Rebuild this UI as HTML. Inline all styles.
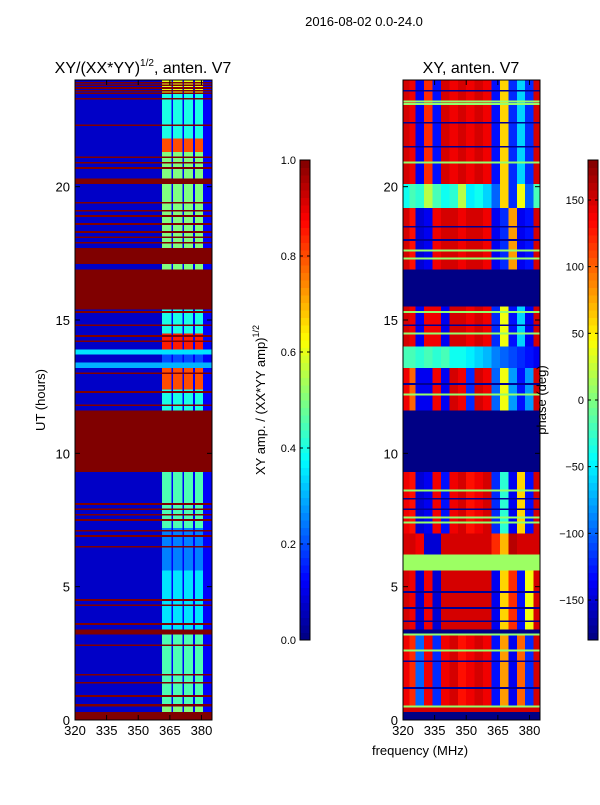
<!DOCTYPE html>
<html><head><meta charset="utf-8"><style>
body{margin:0;background:#fff;}
svg text{font-family:"Liberation Sans",sans-serif;fill:#000;}
</style></head><body>
<svg id="fig" width="600" height="800" viewBox="0 0 600 800" xmlns="http://www.w3.org/2000/svg">
<rect width="600" height="800" fill="#fff"/>
<text x="364" y="26" font-size="13" text-anchor="middle">2016-08-02 0.0-24.0</text>
<text x="143" y="73" font-size="16" text-anchor="middle">XY/(XX*YY)<tspan font-size="10" dy="-7">1/2</tspan><tspan dy="7">, anten. V7</tspan></text>
<text x="471" y="73" font-size="16" text-anchor="middle">XY, anten. V7</text>
<g id="left"></g>
<g id="right"></g>
<g id="cb1"></g>
<g id="cb2"></g>
<g id="axes"></g>
<text x="420" y="755" font-size="13" text-anchor="middle">frequency (MHz)</text>
<text transform="translate(45,400) rotate(-90)" font-size="13" text-anchor="middle">UT (hours)</text>
<text transform="translate(265,400) rotate(-90)" font-size="13" text-anchor="middle">XY amp. / (XX*YY amp)<tspan font-size="9" dy="-6">1/2</tspan></text>
<text transform="translate(546,400) rotate(-90)" font-size="13" text-anchor="middle">phase (deg)</text>
</svg>
<script>
// ---- data ----
const freqDomain=[320,385];
const timeDomain=[0,24];
const xTicks=[320,335,350,365,380];
const yTicks=[0,5,10,15,20];
const ampTicks=[0,0.2,0.4,0.6,0.8,1.0];
const phaseTicks=[-150,-100,-50,0,50,100,150];
const lowEdge=361.2;
const stripes=[[361.2,365.9],[366.4,371],[371.6,376],[377,380.7]];
const ampBands=[[0,0.3,1,1],[0.3,0.5,0.07,0.5],[0.5,0.6,1,1],[0.6,3.2,0.07,0.45],[3.2,3.4,1,1],[3.4,5.6,0.07,0.35],[5.6,7.2,0.07,0.25],[7.2,9.3,0.07,0.45],[9.3,11.6,1,1],[11.6,12.4,0.07,0.4],[12.4,13.2,0.07,0.8],[13.2,13.4,0.3,0.3],[13.4,13.7,0.07,0.2],[13.7,13.9,0.35,0.35],[13.9,14.5,0.07,0.85],[14.5,15.4,0.07,0.4],[15.4,16.9,1,1],[16.9,17.1,0.07,0.5],[17.1,17.7,1,1],[17.7,20.1,0.07,0.5],[20.1,20.3,1,1],[20.3,21.3,0.07,0.5],[21.3,21.8,0.07,0.8],[21.8,23.5,0.07,0.4],[23.5,24,0.07,0.6]];
const ampRedLines=[0.9,1.4,1.7,2.8,3.6,4.3,4.5,6.5,6.9,7.1,7.5,7.7,7.9,8.1,11.8,12.3,13.0,14.2,14.4,14.8,15.3,17.9,18.1,18.3,18.6,18.9,19.1,19.4,20.7,20.9,21.1,22.3,23.3,23.5,23.6,23.7,23.8,23.9];
const phaseCols=[320,323,326,330,334,338,342,346,350,354,358,362,366,370,374,378,382,385];
const D=-178;
const phaseBands=[
[0,0.3,Array(17).fill(D)],
[0.3,0.5,Array(17).fill(150)],
[0.5,3.2,[140,120,-100,140,-120,140,150,130,140,150,140,-130,80,-140,100,-120,150]],
[3.2,3.4,Array(17).fill(D)],
[3.4,5.6,[150,140,-150,140,-150,150,150,150,150,150,150,-140,60,120,-130,40,150]],
[5.6,6.2,Array(17).fill(10)],
[6.2,7.0,[150,150,140,-150,-150,150,150,150,150,150,150,120,70,160,150,150,150]],
[7.0,9.3,[140,130,-150,-140,140,-130,140,150,130,140,150,-120,-30,-140,60,-130,150]],
[9.3,11.6,Array(17).fill(D)],
[11.6,13.2,[140,100,-140,-140,140,-140,150,140,-120,150,140,-100,40,-80,-130,-80,150]],
[13.2,14.0,[-20,-20,-30,-20,-30,-20,-40,-40,-50,-60,-70,-90,-100,-110,-120,-130,-140]],
[14.0,15.5,[150,140,-140,140,140,-140,150,150,140,150,140,-120,40,-130,-60,-140,150]],
[15.5,16.9,Array(17).fill(D)],
[16.9,19.2,[150,130,-150,-140,140,150,150,140,150,150,140,-140,-120,80,-140,-130,150]],
[19.2,20.1,[-40,-20,-30,20,-20,-40,-30,20,-50,-40,-60,-100,60,-120,40,-100,-20]],
[20.1,24,[150,140,-140,120,-130,150,140,150,140,150,140,-130,60,-120,-60,-120,150]]];
const phaseGreenLines=[0.5,2.6,3.2,7.4,7.6,8.6,12.2,14.5,15.3,17.3,17.6,20.9,23.1,23.2];
const phaseBlueLines=[1.2,2.2,3.7,4.2,4.8,7.9,8.3,12.6,14.8,18.0,18.5,21.5,22.4,23.6];

// ---- helpers ----
const NS="http://www.w3.org/2000/svg";
const cl=v=>Math.max(0,Math.min(1,v));
function jet(t){t=cl(t);const r=cl(1.5-Math.abs(4*t-3)),g=cl(1.5-Math.abs(4*t-2)),b=cl(1.5-Math.abs(4*t-1));return `rgb(${Math.round(r*255)},${Math.round(g*255)},${Math.round(b*255)})`;}
const Y0=720,Y1=80;
const yS=t=>Y0-(t-timeDomain[0])/(timeDomain[1]-timeDomain[0])*(Y0-Y1);
function xS(x0,x1){return f=>x0+(f-freqDomain[0])/(freqDomain[1]-freqDomain[0])*(x1-x0);}
const xL=xS(75,212), xR=xS(403,540);
function rect(g,x,y,w,h,fill){const r=document.createElementNS(NS,'rect');r.setAttribute('x',x);r.setAttribute('y',y);r.setAttribute('width',w);r.setAttribute('height',h);r.setAttribute('fill',fill);r.setAttribute('shape-rendering','crispEdges');g.appendChild(r);return r;}
function txt(g,x,y,s,anchor,size){const t=document.createElementNS(NS,'text');t.setAttribute('x',x);t.setAttribute('y',y);t.setAttribute('font-size',size||13);t.setAttribute('text-anchor',anchor);t.textContent=s;g.appendChild(t);return t;}
function line(g,x1,y1,x2,y2){const l=document.createElementNS(NS,'line');l.setAttribute('x1',x1);l.setAttribute('y1',y1);l.setAttribute('x2',x2);l.setAttribute('y2',y2);l.setAttribute('stroke','#000');l.setAttribute('stroke-width',1);g.appendChild(l);return l;}

// ---- left heatmap ----
const L=document.getElementById('left');
ampBands.forEach(b=>{
  const [t0,t1,lo,hi]=b;const y=yS(t1),h=yS(t0)-yS(t1);
  let r=rect(L,xL(320),y,xL(lowEdge)-xL(320),h,jet(lo));
  
  
  r=rect(L,xL(lowEdge),y,xL(385)-xL(lowEdge),h,jet(Math.max(lo,0.12)));
  
  
  stripes.forEach(s=>{const c=rect(L,xL(s[0]),y,xL(s[1])-xL(s[0]),h,jet(hi));
    
    });
});
ampRedLines.forEach(t=>{const r=rect(L,75,yS(t)-0.8,137,1.6,jet(1));
  
  });

// ---- right heatmap ----
const R=document.getElementById('right');
phaseBands.forEach(b=>{
  const [t0,t1,vals]=b;const y=yS(t1),h=yS(t0)-yS(t1);
  vals.forEach((v,i)=>{const r=rect(R,xR(phaseCols[i]),y,xR(phaseCols[i+1])-xR(phaseCols[i])+0.3,h,jet((v+180)/360));
    
    });
});
phaseGreenLines.forEach(t=>{const r=rect(R,403,yS(t)-1,137,2,jet(0.52));
  
  });
phaseBlueLines.forEach(t=>{const r=rect(R,403,yS(t)-0.8,137,1.6,jet(0.02));
  
  });

// ---- axes ----
const A=document.getElementById('axes');
[[75,xL],[403,xR]].forEach(([x0,xs],k)=>{
  const f=document.createElementNS(NS,'rect');f.setAttribute('x',x0);f.setAttribute('y',80);f.setAttribute('width',137);f.setAttribute('height',640);f.setAttribute('fill','none');f.setAttribute('stroke','#000');A.appendChild(f);
  
  
  xTicks.forEach(v=>{line(A,xs(v),720,xs(v),715);line(A,xs(v),80,xs(v),85);
    const t=txt(A,xs(v),735,String(v),'middle');
    
    });
  yTicks.forEach(v=>{line(A,x0,yS(v),x0+5,yS(v));line(A,x0+137,yS(v),x0+132,yS(v));
    const t=txt(A,x0-5,yS(v)+5,String(v),'end');
    
    });
});

// ---- colorbars ----
function colorbar(id,x,lo,hi,ticks,fmt){
  const g=document.getElementById(id);const N=64,top=160,bot=640;
  for(let i=0;i<N;i++){const r=rect(g,x,bot-(i+1)*(bot-top)/N,10,(bot-top)/N+0.5,jet((i+0.5)/N));
    
    }
  const f=document.createElementNS(NS,'rect');f.setAttribute('x',x);f.setAttribute('y',top);f.setAttribute('width',10);f.setAttribute('height',bot-top);f.setAttribute('fill','none');f.setAttribute('stroke','#000');g.appendChild(f);
  ticks.forEach(v=>{const y=bot-(v-lo)/(hi-lo)*(bot-top);line(g,x,y,x+3,y);line(g,x+10,y,x+7,y);
    const t=txt(g,x-4,y+4,fmt(v),'end',11);
    
    });
}
colorbar('cb1',300,0,1,ampTicks,v=>v.toFixed(1));
colorbar('cb2',588,-180,180,phaseTicks,v=>v<0?'\u2212'+(-v):String(v));
</script>
</body></html>
